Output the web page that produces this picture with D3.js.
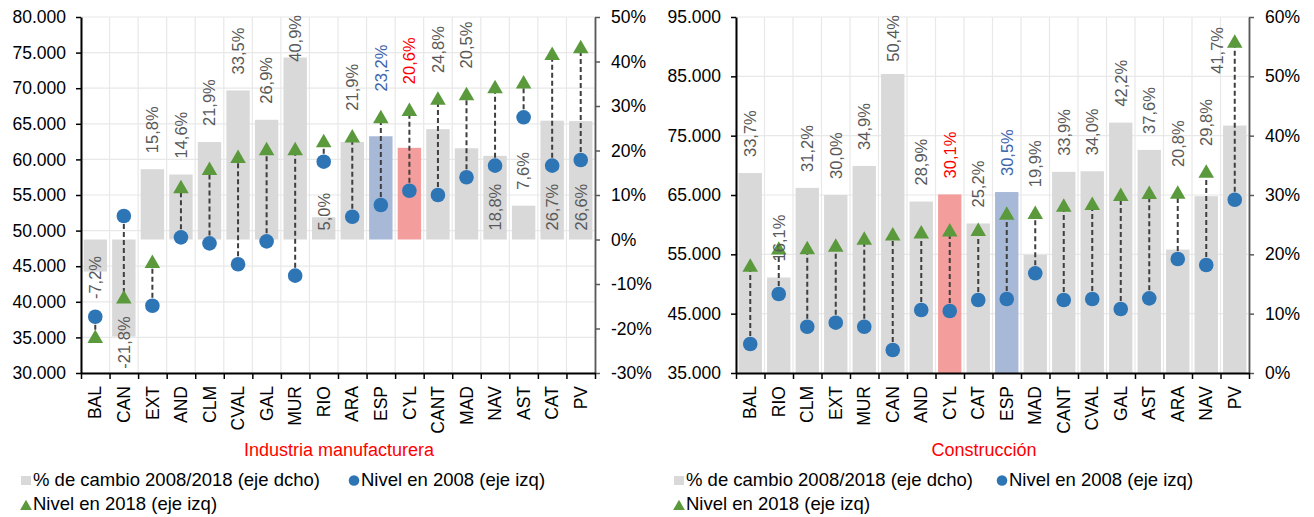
<!DOCTYPE html>
<html>
<head>
<meta charset="utf-8">
<script src="https://cdn.jsdelivr.net/npm/d3@7"></script>
<style>
  body { margin: 0; background: #fff; }
  svg { display: block; font-family: "Liberation Sans", Arial, sans-serif; }
</style>
</head>
<body>
<svg id="chart" width="1314" height="517"></svg>
<script>
// Productividad por CCAA: nivel 2008 vs 2018 (eje izq) y % de cambio (eje dcho)

// --- Industria manufacturera ---
const indCats = ["BAL", "CAN", "EXT", "AND", "CLM", "CVAL", "GAL", "MUR", "RIO", "ARA", "ESP", "CYL", "CANT", "MAD", "NAV", "AST", "CAT", "PV"];
const indPct = [-7.2, -21.8, 15.8, 14.6, 21.9, 33.5, 26.9, 40.9, 5.0, 21.9, 23.2, 20.6, 24.8, 20.5, 18.8, 7.6, 26.7, 26.6];
const ind2008 = [37900, 52050, 39450, 49050, 48200, 45270, 48490, 43670, 59680, 51950, 53600, 55600, 55000, 57490, 59120, 65910, 59120, 59920];
const ind2018 = [35170, 40700, 45680, 56200, 58750, 60430, 61530, 61530, 62660, 63330, 66040, 67050, 68640, 69270, 70230, 70920, 74900, 75860];
const indLeftTicks = [30000, 35000, 40000, 45000, 50000, 55000, 60000, 65000, 70000, 75000, 80000];
const indRightTicks = [-0.3, -0.2, -0.1, 0, 0.1, 0.2, 0.3, 0.4, 0.5];
// where each % label sits: out = above bar, in = inside near base, neg = below, mk = above the 2018 marker
const indLabelMode = ["neg", "neg", "out", "out", "out", "out", "out", "out", "in", "mk", "mk", "mk", "mk", "mk", "in", "out", "in", "in"];

// --- Construcción ---
const conCats = ["BAL", "RIO", "CLM", "EXT", "MUR", "CAN", "AND", "CYL", "CAT", "ESP", "MAD", "CANT", "CVAL", "GAL", "AST", "ARA", "NAV", "PV"];
const conPct = [33.7, 16.1, 31.2, 30.0, 34.9, 50.4, 28.9, 30.1, 25.2, 30.5, 19.9, 33.9, 34.0, 42.2, 37.6, 20.8, 29.8, 41.7];
const con2008 = [39890, 48310, 42800, 43480, 42800, 38880, 45620, 45450, 47300, 47470, 51800, 47300, 47470, 45790, 47580, 54210, 53200, 64200];
const con2018 = [53200, 56090, 56150, 56570, 57740, 58470, 58800, 59130, 59220, 61950, 62110, 63330, 63610, 65110, 65470, 65490, 69050, 90970];
const conLeftTicks = [35000, 45000, 55000, 65000, 75000, 85000, 95000];
const conRightTicks = [0, 0.1, 0.2, 0.3, 0.4, 0.5, 0.6];
const conLabelMode = ["out", "out", "out", "out", "out", "out", "out", "out", "out", "out", "mk", "out", "out", "out", "out", "mk", "mk", "mk"];

const legendItems = ["% de cambio 2008/2018 (eje dcho)", "Nivel en 2008 (eje izq)", "Nivel en 2018 (eje izq)"];

const barFill = { ESP: "#a8b9d8", CYL: "#f39e9d" };
const labelFill = { ESP: "#3d65ad", CYL: "#ff0000" };
const BLUE = "#2e75b6", GREEN = "#5b9a3c", GREY_BAR = "#d9d9d9";

const es = d3.formatLocale({ decimal: ",", thousands: ".", grouping: [3], currency: ["", " €"], minus: "-" });
const fmtLevel = es.format(",.0f");
const fmtAxisPct = es.format(".0%");
const fmtLabelPct = es.format(".1%");

const svg = d3.select("#chart");
const TOP = 17, BOTTOM = 373;

function drawPanel(o) {
  const g = svg.append("g");
  const n = o.cats.length;
  const x = d3.scaleBand().domain(o.cats).range([o.x0, o.x1]).paddingInner(0.18).paddingOuter(0.09);
  const xEdge = d3.scaleLinear().domain([0, n]).range([o.x0, o.x1]);
  const yL = d3.scaleLinear().domain(d3.extent(o.leftTicks)).range([BOTTOM, TOP]);
  const yR = d3.scaleLinear().domain(d3.extent(o.rightTicks)).range([BOTTOM, TOP]);
  const cx = (c) => x(c) + x.bandwidth() / 2;

  // grid
  g.append("g").selectAll("line").data(o.leftTicks).join("line")
    .attr("x1", o.x0).attr("x2", o.x1).attr("y1", (d) => yL(d)).attr("y2", (d) => yL(d))
    .attr("stroke", "#e8e8e8").attr("stroke-width", 1.2);
  g.append("g").selectAll("line").data(d3.range(n + 1)).join("line")
    .attr("x1", (d) => xEdge(d)).attr("x2", (d) => xEdge(d)).attr("y1", TOP).attr("y2", BOTTOM)
    .attr("stroke", "#e8e8e8").attr("stroke-width", 1.2);

  // % bars (right axis)
  g.append("g").selectAll("rect").data(o.cats).join("rect")
    .attr("x", (c) => x(c)).attr("width", x.bandwidth())
    .attr("y", (c, i) => Math.min(yR(o.pct[i] / 100), yR(0)))
    .attr("height", (c, i) => Math.abs(yR(o.pct[i] / 100) - yR(0)))
    .attr("fill", (c) => barFill[c] || GREY_BAR);

  // dashed connectors 2008 -> 2018
  g.append("g").selectAll("line").data(o.cats).join("line")
    .attr("x1", cx).attr("x2", cx)
    .attr("y1", (c, i) => yL(o.v08[i])).attr("y2", (c, i) => yL(o.v18[i]))
    .attr("stroke", "#3f3f3f").attr("stroke-width", 2).attr("stroke-dasharray", "5,3");

  g.append("g").selectAll("circle").data(o.cats).join("circle")
    .attr("cx", cx).attr("cy", (c, i) => yL(o.v08[i])).attr("r", 7.3).attr("fill", BLUE);

  const tri = d3.symbol(d3.symbolTriangle, 105);
  g.append("g").selectAll("path").data(o.cats).join("path")
    .attr("d", tri)
    .attr("transform", (c, i) => `translate(${cx(c)},${yL(o.v18[i]) + 2.25})`)
    .attr("fill", GREEN);

  // % labels
  const labels = g.append("g").selectAll("text").data(o.cats).join("text")
    .attr("font-size", 16.5).attr("dy", "0.35em")
    .attr("fill", (c) => labelFill[c] || "#595959")
    .text((c, i) => fmtLabelPct(o.pct[i] / 100));
  labels.each(function (c, i) {
    const el = d3.select(this);
    const len = this.getComputedTextLength();
    const mode = o.mode[i];
    let anchor = "start", y, dx = 0;
    if (mode === "out") y = yR(o.pct[i] / 100) - 16;
    else if (mode === "in") y = yR(0) - 9;
    else if (mode === "mk") y = yL(o.v18[i]) - 7 - 18;
    else { anchor = "middle"; y = yR(o.pct[i] / 100) + 6; }
    if (anchor === "start" && y - len < 15) {
      if (mode === "mk") { y = 27 + len; dx = -18; } // no room above the marker: slide left of it
      else y = 15 + len;
    }
    el.attr("text-anchor", anchor).attr("transform", `translate(${cx(c) + dx},${y}) rotate(-90)`);
  });

  // axes
  const axL = g.append("g").attr("transform", `translate(${o.x0},0)`)
    .call(d3.axisLeft(yL).tickValues(o.leftTicks).tickFormat(fmtLevel).tickSize(5).tickSizeOuter(0).tickPadding(10));
  axL.select(".domain").attr("stroke", "#000").attr("stroke-width", 2);
  axL.selectAll(".tick line").attr("stroke", "#000").attr("stroke-width", 1.5);

  const axR = g.append("g").attr("transform", `translate(${o.x1},0)`)
    .call(d3.axisRight(yR).tickValues(o.rightTicks).tickFormat(fmtAxisPct).tickSize(5).tickSizeOuter(0).tickPadding(11));
  axR.select(".domain").attr("stroke", "#595959").attr("stroke-width", 1.8);
  axR.selectAll(".tick line").attr("stroke", "#595959").attr("stroke-width", 1.5);

  [axL, axR].forEach((a) => a.selectAll("text").attr("font-size", 17.5).attr("fill", "#000")
    .attr("font-family", "Liberation Sans, Arial, sans-serif"));

  const axB = g.append("g").attr("transform", `translate(0,${BOTTOM})`)
    .call(d3.axisBottom(xEdge).tickValues(d3.range(n + 1)).tickFormat("").tickSize(6).tickSizeOuter(0));
  axB.select(".domain").attr("stroke", "#000").attr("stroke-width", 2);
  axB.selectAll(".tick line").attr("stroke", "#000").attr("stroke-width", 1.5);

  const axC = g.append("g").attr("transform", `translate(0,${BOTTOM})`)
    .call(d3.axisBottom(x).tickSize(0).tickPadding(0));
  axC.select(".domain").remove();
  axC.selectAll("text")
    .attr("font-size", 17.5).attr("fill", "#000").attr("font-family", "Liberation Sans, Arial, sans-serif")
    .attr("transform", "rotate(-90)").attr("text-anchor", "end")
    .attr("x", -13).attr("y", 0).attr("dy", "0.35em");

  // panel title
  svg.append("text").attr("x", o.titleX).attr("y", 456).attr("text-anchor", "middle")
    .attr("font-size", 18).attr("fill", "#ff0000").text(o.title);

  // legend
  const lg = svg.append("g").attr("font-size", 18.5).attr("fill", "#000");
  lg.append("rect").attr("x", o.legX).attr("y", 476).attr("width", 10).attr("height", 9).attr("fill", GREY_BAR);
  lg.append("text").attr("x", o.legX + 12).attr("y", 486).text(legendItems[0]);
  lg.append("circle").attr("cx", o.legX2).attr("cy", 480.5).attr("r", 5.3).attr("fill", BLUE);
  lg.append("text").attr("x", o.legX2 + 7).attr("y", 486).text(legendItems[1]);
  lg.append("path").attr("d", d3.symbol(d3.symbolTriangle, 60)).attr("fill", GREEN)
    .attr("transform", `translate(${o.legX + 5},${506.5})`);
  lg.append("text").attr("x", o.legX + 12).attr("y", 510).text(legendItems[2]);
}

drawPanel({
  cats: indCats, pct: indPct, v08: ind2008, v18: ind2018, mode: indLabelMode,
  leftTicks: indLeftTicks, rightTicks: indRightTicks,
  x0: 81, x1: 595, title: "Industria manufacturera", titleX: 339, legX: 21, legX2: 354
});
drawPanel({
  cats: conCats, pct: conPct, v08: con2008, v18: con2018, mode: conLabelMode,
  leftTicks: conLeftTicks, rightTicks: conRightTicks,
  x0: 736, x1: 1249, title: "Construcción", titleX: 984, legX: 674, legX2: 1002
});
</script>
</body>
</html>
